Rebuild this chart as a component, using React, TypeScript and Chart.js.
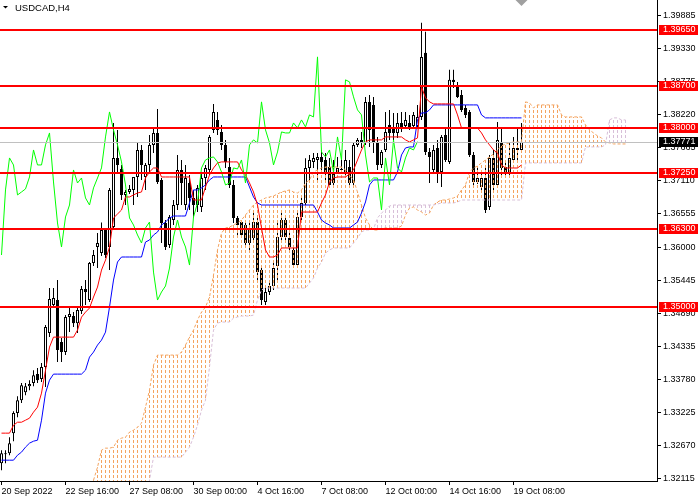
import React, { useEffect, useRef } from "react";
import { Chart, registerables } from "chart.js";

Chart.register(...registerables);

const SYMBOL_TITLE = "USDCAD,H4";

// x-axis labels (bar index -> time label)
const labelBars = [0, 16, 32, 48, 64, 80, 96, 112, 128];
const timeLabels = [
  "20 Sep 2022", "22 Sep 16:00", "27 Sep 08:00", "30 Sep 00:00", "4 Oct 16:00",
  "7 Oct 08:00", "12 Oct 00:00", "14 Oct 16:00", "19 Oct 08:00",
];

const yTicks = [
  1.39885, 1.3933, 1.38775, 1.3822, 1.37665, 1.3711, 1.36555, 1.36, 1.35445,
  1.3489, 1.34335, 1.3378, 1.33225, 1.3267, 1.32115,
];

const levels = [1.3965, 1.387, 1.38, 1.3725, 1.363, 1.35];
const bid = 1.37771;

// H4 candles
const opens = [
  1.32368, 1.32536, 1.32536, 1.32872, 1.33209, 1.33427, 1.33561, 1.33662, 1.33713, 1.33864,
  1.3378, 1.33982, 1.34554, 1.35025, 1.35109, 1.34402, 1.34234, 1.34822, 1.34839, 1.34721,
  1.34923, 1.35294, 1.35109, 1.35731, 1.36, 1.35899, 1.36286, 1.36, 1.36336, 1.37497,
  1.37312, 1.36875, 1.36925, 1.36959, 1.37177, 1.37631, 1.37177, 1.37379, 1.37716, 1.37917,
  1.37127, 1.36404, 1.36034, 1.36454, 1.36706, 1.37295, 1.36706, 1.37076, 1.36824, 1.36706,
  1.36672, 1.3716, 1.37295, 1.37968, 1.38136, 1.37934, 1.37716, 1.37346, 1.37043, 1.36488,
  1.3642, 1.3637, 1.36068, 1.36152, 1.3642, 1.35613, 1.35075, 1.35244, 1.35345, 1.3568,
  1.36168, 1.36454, 1.36152, 1.3595, 1.35697, 1.36504, 1.3674, 1.37329, 1.3743, 1.37463,
  1.37514, 1.37463, 1.37346, 1.37245, 1.37261, 1.37295, 1.37261, 1.37346, 1.37076, 1.37716,
  1.378, 1.37749, 1.38439, 1.38388, 1.37766, 1.37379, 1.37631, 1.38052, 1.38018, 1.37917,
  1.38085, 1.38035, 1.38085, 1.38035, 1.38035, 1.38186, 1.39263, 1.37597, 1.37295, 1.37665,
  1.37261, 1.37884, 1.3743, 1.38809, 1.3869, 1.38556, 1.38338, 1.3827, 1.37547, 1.37093,
  1.37009, 1.3716, 1.36672, 1.37497, 1.37043, 1.37749, 1.37346, 1.37261, 1.37463, 1.37665,
  1.37631,
];
const highs = [
  1.32586, 1.32586, 1.32804, 1.33242, 1.33494, 1.33713, 1.33713, 1.33763, 1.33931, 1.33965,
  1.34049, 1.34688, 1.35311, 1.35311, 1.35445, 1.34469, 1.34856, 1.34991, 1.34906, 1.34991,
  1.35344, 1.35445, 1.35748, 1.3595, 1.36235, 1.3641, 1.3632, 1.36993, 1.38085, 1.37968,
  1.37379, 1.36959, 1.37043, 1.37177, 1.37766, 1.37716, 1.37413, 1.37884, 1.38001, 1.38321,
  1.3716, 1.36454, 1.36538, 1.3679, 1.37547, 1.37463, 1.37379, 1.37211, 1.36959, 1.37043,
  1.37261, 1.37379, 1.37884, 1.38405, 1.3827, 1.38052, 1.378, 1.37497, 1.37127, 1.36521,
  1.36454, 1.36404, 1.3642, 1.36589, 1.36488, 1.35647, 1.35311, 1.35445, 1.35748, 1.36454,
  1.36572, 1.36538, 1.36286, 1.36034, 1.36572, 1.36875, 1.3749, 1.37547, 1.37581, 1.37581,
  1.37631, 1.37581, 1.37497, 1.37463, 1.37514, 1.37463, 1.37631, 1.37463, 1.37749, 1.37833,
  1.37934, 1.38523, 1.38556, 1.38523, 1.3785, 1.37631, 1.3827, 1.38304, 1.38253, 1.38253,
  1.3827, 1.3827, 1.3822, 1.3827, 1.38388, 1.39768, 1.39616, 1.37665, 1.37716, 1.378,
  1.37884, 1.38001, 1.38977, 1.38977, 1.38775, 1.3864, 1.38388, 1.38304, 1.37597, 1.37346,
  1.37261, 1.37379, 1.37547, 1.37631, 1.38102, 1.38001, 1.37413, 1.37766, 1.3785, 1.38001,
  1.38085,
];
const lows = [
  1.3225, 1.32368, 1.32502, 1.32737, 1.33141, 1.33377, 1.33511, 1.33595, 1.33662, 1.33713,
  1.3373, 1.33646, 1.34486, 1.34991, 1.34066, 1.34066, 1.34184, 1.3457, 1.34654, 1.34554,
  1.34873, 1.35025, 1.35075, 1.3568, 1.35647, 1.35849, 1.35815, 1.35613, 1.36286, 1.37245,
  1.3679, 1.36706, 1.36891, 1.36706, 1.36841, 1.37127, 1.36959, 1.37245, 1.37581, 1.3706,
  1.36068, 1.3595, 1.35984, 1.3637, 1.36622, 1.36706, 1.36622, 1.36622, 1.36488, 1.36588,
  1.36588, 1.36959, 1.37211, 1.37917, 1.37884, 1.37631, 1.37329, 1.36993, 1.36404, 1.36202,
  1.36152, 1.35984, 1.3595, 1.36118, 1.35445, 1.35025, 1.35025, 1.35193, 1.35277, 1.35445,
  1.36118, 1.36118, 1.3595, 1.35647, 1.35647, 1.3642, 1.36689, 1.37127, 1.37329, 1.37127,
  1.37295, 1.37127, 1.37009, 1.37009, 1.37228, 1.37261, 1.37211, 1.37043, 1.37026, 1.37682,
  1.37665, 1.37716, 1.37682, 1.37581, 1.37295, 1.37329, 1.37597, 1.378, 1.378, 1.37833,
  1.37934, 1.38001, 1.37968, 1.38001, 1.38001, 1.38136, 1.37547, 1.37076, 1.37261, 1.37076,
  1.37009, 1.3743, 1.37396, 1.38674, 1.38506, 1.3827, 1.38169, 1.37514, 1.37043, 1.3706,
  1.36959, 1.36572, 1.36622, 1.36959, 1.36993, 1.37211, 1.3716, 1.37211, 1.3743, 1.37463,
  1.37581,
];
const closes = [
  1.32536, 1.32519, 1.32704, 1.33209, 1.33427, 1.33679, 1.33662, 1.33696, 1.33847, 1.33763,
  1.33982, 1.34654, 1.35126, 1.35143, 1.34268, 1.34234, 1.34822, 1.34873, 1.34721, 1.3494,
  1.35294, 1.35244, 1.35731, 1.35866, 1.36068, 1.36286, 1.35866, 1.36959, 1.37497, 1.37379,
  1.36875, 1.36925, 1.36976, 1.37177, 1.37631, 1.37379, 1.37379, 1.37716, 1.37917, 1.37093,
  1.36404, 1.36, 1.36505, 1.36706, 1.37295, 1.37076, 1.3716, 1.36824, 1.36706, 1.36993,
  1.3716, 1.37329, 1.3785, 1.3827, 1.37968, 1.37716, 1.3743, 1.37043, 1.36488, 1.3637,
  1.36202, 1.36068, 1.3632, 1.3642, 1.35579, 1.35109, 1.35244, 1.35345, 1.35647, 1.36168,
  1.36454, 1.36168, 1.36, 1.35697, 1.36504, 1.3674, 1.37329, 1.37463, 1.37497, 1.37514,
  1.3743, 1.37261, 1.37043, 1.37076, 1.37329, 1.37312, 1.37463, 1.37076, 1.37716, 1.378,
  1.37749, 1.38439, 1.37968, 1.37749, 1.37379, 1.37597, 1.37934, 1.37917, 1.37917, 1.38085,
  1.38001, 1.38136, 1.38018, 1.3822, 1.38186, 1.39195, 1.37597, 1.37514, 1.37631, 1.37261,
  1.3785, 1.37463, 1.38809, 1.38775, 1.38523, 1.38304, 1.3822, 1.37547, 1.37093, 1.3716,
  1.3716, 1.36622, 1.37497, 1.37043, 1.378, 1.37329, 1.37261, 1.37497, 1.37665, 1.37631,
  1.37771,
];

// Ichimoku lines
const tenkan = [
  1.32872, 1.32872, 1.32872, 1.33006, 1.33056, 1.33056, 1.3309, 1.33124, 1.33225, 1.33309,
  1.33545, 1.33931, 1.34318, 1.34486, 1.34486, 1.34486, 1.34486, 1.34486, 1.34486, 1.34604,
  1.34822, 1.34906, 1.34974, 1.35159, 1.35327, 1.35613, 1.35781, 1.36, 1.36488, 1.36555,
  1.36622, 1.36841, 1.36841, 1.36875, 1.36908, 1.36925, 1.37161, 1.37261, 1.37328, 1.37328,
  1.37177, 1.37177, 1.37177, 1.37177, 1.37177, 1.37177, 1.37177, 1.37177, 1.3679, 1.3679,
  1.3679, 1.37009, 1.37211, 1.37328, 1.37413, 1.3743, 1.3743, 1.3743, 1.3743, 1.3743,
  1.37295, 1.37211, 1.37076, 1.36925, 1.36706, 1.3632, 1.3595, 1.35832, 1.35832, 1.35866,
  1.35984, 1.35984, 1.35984, 1.35984, 1.35984, 1.36588, 1.36588, 1.36588, 1.36588, 1.36588,
  1.3674, 1.36875, 1.37093, 1.3716, 1.37177, 1.37177, 1.37177, 1.37228, 1.37295, 1.37463,
  1.37631, 1.37766, 1.378, 1.378, 1.378, 1.378, 1.3785, 1.3785, 1.3785, 1.3785,
  1.3785, 1.378, 1.37766, 1.378, 1.37833, 1.38691, 1.38506, 1.38439, 1.38405, 1.38405,
  1.38405, 1.38405, 1.38405, 1.38405, 1.3822, 1.38001, 1.38001, 1.38001, 1.38001, 1.38001,
  1.37917, 1.378, 1.37716, 1.37631, 1.37581, 1.37379, 1.37328, 1.37328, 1.37328, 1.37328,
  1.37379,
];
const kijun = [
  1.32418, 1.32418, 1.32418, 1.32418, 1.32502, 1.32553, 1.32637, 1.32704, 1.32737, 1.32754,
  1.3309, 1.33545, 1.33763, 1.33864, 1.33864, 1.33864, 1.33864, 1.33864, 1.33864, 1.33864,
  1.33864, 1.33931, 1.3415, 1.34234, 1.34352, 1.34436, 1.3457, 1.34991, 1.35445, 1.35748,
  1.35832, 1.35832, 1.35832, 1.35832, 1.35832, 1.35832, 1.36084, 1.36118, 1.36202, 1.36252,
  1.3637, 1.3642, 1.36488, 1.36521, 1.36521, 1.36521, 1.36521, 1.3674, 1.36959, 1.36959,
  1.36993, 1.37043, 1.37127, 1.37177, 1.37177, 1.37177, 1.37177, 1.37177, 1.37177, 1.37177,
  1.37177, 1.37177, 1.37009, 1.36841, 1.3674, 1.36706, 1.36706, 1.36706, 1.36706, 1.36706,
  1.36706, 1.36706, 1.36706, 1.36706, 1.36706, 1.36706, 1.36706, 1.36706, 1.36706, 1.36588,
  1.36454, 1.36404, 1.3637, 1.3632, 1.3632, 1.3632, 1.3632, 1.3632, 1.3637, 1.3642,
  1.36572, 1.36757, 1.37043, 1.37127, 1.37127, 1.37127, 1.37127, 1.37127, 1.37127, 1.37261,
  1.37547, 1.37665, 1.37682, 1.37682, 1.38136, 1.38254, 1.38254, 1.38304, 1.38388, 1.38388,
  1.38388, 1.38388, 1.38388, 1.38388, 1.38388, 1.38388, 1.38388, 1.38388, 1.38388, 1.38388,
  1.3822, 1.3817, 1.3817, 1.3817, 1.3817, 1.3817, 1.3817, 1.3817, 1.3817, 1.3817,
  1.3817,
];

// Senkou spans, first value belongs to bar index cloudStart
const cloudStart = 23;
const senkouA = [
  1.32081, 1.323, 1.32586, 1.3262, 1.3262, 1.32637, 1.32754, 1.32788, 1.32804, 1.32889,
  1.32922, 1.32973, 1.3304, 1.33309, 1.33595, 1.34015, 1.34184, 1.34184, 1.34184, 1.34184,
  1.34184, 1.34184, 1.34234, 1.34352, 1.34486, 1.34604, 1.34772, 1.34906, 1.34991, 1.35159,
  1.35529, 1.3595, 1.36235, 1.3632, 1.36336, 1.3637, 1.36404, 1.36454, 1.36538, 1.36622,
  1.36706, 1.36757, 1.3679, 1.36824, 1.36841, 1.36858, 1.36891, 1.36925, 1.36942, 1.36959,
  1.36925, 1.36908, 1.36959, 1.37076, 1.37127, 1.37261, 1.37295, 1.37328, 1.37345, 1.37345,
  1.37345, 1.37345, 1.37345, 1.37295, 1.37211, 1.37127, 1.36925, 1.36706, 1.36488, 1.3637,
  1.36286, 1.36286, 1.36303, 1.3632, 1.3632, 1.3632, 1.3632, 1.36353, 1.36538, 1.36656,
  1.36673, 1.36622, 1.36588, 1.36538, 1.36572, 1.36706, 1.36757, 1.3679, 1.3679, 1.36807,
  1.36824, 1.36858, 1.36959, 1.37043, 1.37261, 1.37328, 1.37362, 1.37413, 1.37463, 1.37514,
  1.37564, 1.37631, 1.37699, 1.37732, 1.37749, 1.37766, 1.37766, 1.37766, 1.38439, 1.38422,
  1.38338, 1.38388, 1.38388, 1.38388, 1.38388, 1.38388, 1.38388, 1.3822, 1.38186, 1.38186,
  1.38186, 1.38186, 1.38186, 1.38052, 1.37968, 1.37917, 1.37867, 1.37833, 1.37766, 1.37749,
  1.37732, 1.37732, 1.37732, 1.37732,
];
const senkouB = [
  1.31745, 1.31745, 1.31745, 1.31745, 1.31745, 1.31745, 1.31745, 1.31745, 1.31745, 1.31745,
  1.31745, 1.31745, 1.31745, 1.31745, 1.32081, 1.32469, 1.32469, 1.32469, 1.32469, 1.32469,
  1.32469, 1.32469, 1.32469, 1.32553, 1.32637, 1.32804, 1.33006, 1.33259, 1.33427, 1.33982,
  1.34604, 1.34722, 1.34739, 1.34739, 1.34739, 1.34806, 1.34823, 1.3484, 1.3484, 1.3484,
  1.34856, 1.35109, 1.35277, 1.35311, 1.35311, 1.35311, 1.35311, 1.35311, 1.35311, 1.35311,
  1.35311, 1.35311, 1.35311, 1.35311, 1.35395, 1.35479, 1.35647, 1.35748, 1.35899, 1.3595,
  1.35984, 1.35984, 1.35984, 1.35984, 1.35984, 1.36067, 1.36151, 1.36252, 1.36286, 1.36286,
  1.36303, 1.36488, 1.36572, 1.36622, 1.3669, 1.36706, 1.36706, 1.36706, 1.36706, 1.36706,
  1.36706, 1.36706, 1.36706, 1.36706, 1.36706, 1.36706, 1.36723, 1.3674, 1.3674, 1.3674,
  1.3674, 1.36757, 1.3679, 1.3679, 1.3679, 1.3679, 1.3679, 1.3679, 1.3679, 1.3679,
  1.3679, 1.3679, 1.3679, 1.3679, 1.3679, 1.3679, 1.3679, 1.3679, 1.37413, 1.37413,
  1.37413, 1.37413, 1.37413, 1.37413, 1.37413, 1.37413, 1.37413, 1.37413, 1.37413, 1.37413,
  1.37413, 1.37413, 1.37413, 1.37682, 1.37682, 1.37682, 1.37682, 1.37682, 1.37716, 1.38136,
  1.3817, 1.3817, 1.38136, 1.38136,
];
const chikouShift = 26;

const FONT = "Liberation Sans";
const UP_CLOUD = "#F4A460";
const DOWN_CLOUD = "#D8BFD8";

export default function App() {
  const ref = useRef<HTMLCanvasElement>(null);

  useEffect(() => {
    const canvas = ref.current;
    if (!canvas) return;

    // vertical dotted hatch used for the cloud bars (3px on, 2px off)
    const makeHatch = (color: string) => {
      const c = document.createElement("canvas");
      c.width = 1;
      c.height = 5;
      const g = c.getContext("2d")!;
      g.fillStyle = color;
      g.fillRect(0, 0, 1, 3);
      return g.createPattern(c, "repeat")!;
    };
    const hatchUp = makeHatch(UP_CLOUD);
    const hatchDown = makeHatch(DOWN_CLOUD);

    const candleIdx = closes.map((_, i) => i);
    const cloudIdx = senkouA.map((_, k) => k + cloudStart);

    const overlay = {
      id: "mt4Overlay",
      afterDatasetsDraw(chart: any) {
        const { ctx, chartArea: a, scales } = chart;
        const y = scales.y;
        ctx.save();
        ctx.beginPath();
        ctx.rect(a.left, a.top, a.right - a.left, a.bottom - a.top);
        ctx.clip();
        const by = Math.round(y.getPixelForValue(bid)) + 0.5;
        ctx.strokeStyle = "#C0C0C0";
        ctx.lineWidth = 1;
        ctx.beginPath();
        ctx.moveTo(a.left, by);
        ctx.lineTo(a.right, by);
        ctx.stroke();
        ctx.fillStyle = "#FF0000";
        for (const lv of levels) {
          const py = Math.round(y.getPixelForValue(lv));
          ctx.fillRect(a.left, py - 1, a.right - a.left, 2);
        }
        ctx.restore();
      },
      afterDraw(chart: any) {
        const { ctx, chartArea: a, scales } = chart;
        const y = scales.y;
        const x = scales.x;
        ctx.save();
        ctx.font = `9px "${FONT}"`;
        ctx.textBaseline = "middle";
        ctx.textAlign = "left";
        const box = (v: number, bg: string) => {
          const py = Math.round(y.getPixelForValue(v));
          ctx.fillStyle = bg;
          ctx.fillRect(a.right + 2, py - 5, 39, 10);
          ctx.fillStyle = "#FFFFFF";
          ctx.fillText(v.toFixed(5), a.right + 6, py);
        };
        for (const lv of levels) box(lv, "#FF0000");
        box(bid, "#000000");

        // title
        ctx.fillStyle = "#000000";
        ctx.beginPath();
        ctx.moveTo(3, 6);
        ctx.lineTo(8, 6);
        ctx.lineTo(5.5, 8.5);
        ctx.closePath();
        ctx.fill();
        ctx.font = `9.5px "${FONT}"`;
        ctx.fillText(SYMBOL_TITLE, 15, 8);

        // chart shift marker above last bar
        const sx = x.getPixelForValue(closes.length - 1);
        ctx.fillStyle = "#A0A0A0";
        ctx.beginPath();
        ctx.moveTo(sx - 6, 0);
        ctx.lineTo(sx + 6, 0);
        ctx.lineTo(sx, 6);
        ctx.closePath();
        ctx.fill();
        ctx.restore();
      },
    };

    const lineBase = {
      type: "line" as const,
      pointRadius: 0,
      borderWidth: 1,
      tension: 0,
      fill: false,
    };

    const chart = new Chart(canvas, {
      type: "line",
      data: {
        datasets: [
          {
            type: "bar",
            label: "wick",
            data: candleIdx.map((i) => ({ x: i, y: [lows[i], highs[i]] })) as any,
            backgroundColor: "#000000",
            borderWidth: 0,
            barThickness: 1,
            grouped: false,
            inflateAmount: 0,
            order: 9,
          } as any,
          {
            type: "bar",
            label: "body",
            data: candleIdx.map((i) => ({ x: i, y: [opens[i], closes[i]] })) as any,
            backgroundColor: candleIdx.map((i) => (closes[i] >= opens[i] ? "#FFFFFF" : "#000000")),
            borderColor: "#000000",
            borderWidth: 1,
            borderSkipped: false,
            barThickness: 3,
            grouped: false,
            inflateAmount: 0,
            order: 8,
          } as any,
          {
            type: "bar",
            label: "cloud",
            data: cloudIdx.map((bx, k) => ({ x: bx, y: [senkouA[k], senkouB[k]] })) as any,
            backgroundColor: senkouA.map((v, k) => (v >= senkouB[k] ? hatchUp : hatchDown)),
            borderWidth: 0,
            barThickness: 1,
            grouped: false,
            inflateAmount: 0,
            order: 7,
          } as any,
          {
            ...lineBase,
            label: "Senkou Span A",
            data: cloudIdx.map((bx, k) => ({ x: bx, y: senkouA[k] })),
            borderColor: UP_CLOUD,
            borderDash: [3, 2],
            order: 6,
          },
          {
            ...lineBase,
            label: "Senkou Span B",
            data: cloudIdx.map((bx, k) => ({ x: bx, y: senkouB[k] })),
            borderColor: DOWN_CLOUD,
            borderDash: [3, 2],
            order: 5,
          },
          {
            ...lineBase,
            label: "Kijun-sen",
            data: candleIdx.map((i) => ({ x: i, y: kijun[i] })),
            borderColor: "#0000FF",
            order: 4,
          },
          {
            ...lineBase,
            label: "Tenkan-sen",
            data: candleIdx.map((i) => ({ x: i, y: tenkan[i] })),
            borderColor: "#FF0000",
            order: 3,
          },
          {
            ...lineBase,
            label: "Chikou Span",
            data: closes.slice(chikouShift).map((c, i) => ({ x: i, y: c })),
            borderColor: "#00FF00",
            order: 2,
          },
        ] as any,
      },
      options: {
        responsive: false,
        animation: false,
        devicePixelRatio: 1,
        events: [],
        layout: { padding: 0 },
        plugins: {
          legend: { display: false },
          tooltip: { enabled: false },
          title: { display: false },
        },
        scales: {
          x: {
            type: "linear",
            min: -0.375,
            max: 163.875,
            offset: false,
            afterBuildTicks: (s: any) => {
              s.ticks = labelBars.map((v) => ({ value: v }));
            },
            afterFit: (s: any) => {
              s.height = 19;
              s.paddingLeft = 0;
              s.paddingRight = 0;
            },
            ticks: {
              autoSkip: false,
              maxRotation: 0,
              minRotation: 0,
              align: "start",
              padding: 1,
              color: "#000000",
              font: { family: FONT, size: 9 },
              callback: (v: any) => {
                const k = labelBars.indexOf(Number(v));
                return k >= 0 ? timeLabels[k] : "";
              },
            },
            grid: { drawOnChartArea: false, drawTicks: true, tickLength: 4, color: "#000000", offset: false },
            border: { display: true, color: "#000000", width: 1 },
          } as any,
          y: {
            type: "linear",
            position: "right",
            min: 1.32068,
            max: 1.40151,
            afterBuildTicks: (s: any) => {
              s.ticks = yTicks.map((v) => ({ value: v }));
            },
            afterFit: (s: any) => {
              s.width = 43;
              s.paddingTop = 0;
              s.paddingBottom = 0;
            },
            ticks: {
              padding: 2,
              color: "#000000",
              font: { family: FONT, size: 9 },
              callback: (v: any) => Number(v).toFixed(5),
            },
            grid: { drawOnChartArea: false, drawTicks: true, tickLength: 4, color: "#000000" },
            border: { display: true, color: "#000000", width: 1 },
          } as any,
        },
      },
      plugins: [overlay],
    });

    return () => chart.destroy();
  }, []);

  return (
    <div style={{ position: "absolute", left: 0, top: 0, width: 700, height: 500, background: "#FFFFFF" }}>
      <canvas ref={ref} width={700} height={500} style={{ display: "block" }} />
    </div>
  );
}
